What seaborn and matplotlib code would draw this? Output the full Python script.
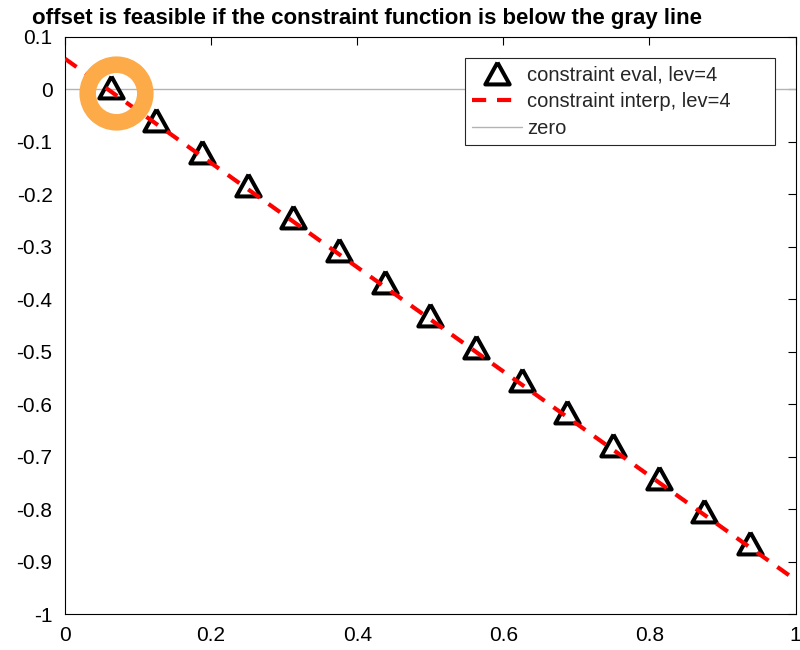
import matplotlib
matplotlib.use("Agg")
import matplotlib.pyplot as plt
import seaborn as sns

# constraint evaluated on the level-4 grid nodes
eval_x = [0.0625, 0.125, 0.1875, 0.25, 0.3125, 0.375, 0.4375, 0.5,
          0.5625, 0.625, 0.6875, 0.75, 0.8125, 0.875, 0.9375]
eval_y = [0.005, -0.058, -0.119, -0.183, -0.243, -0.306, -0.367, -0.430,
          -0.492, -0.555, -0.616, -0.678, -0.740, -0.803, -0.864]

# interpolant of the constraint
interp_x = [0.0, 1.0]
interp_y = [0.058, -0.935]

# feasibility threshold
zero_x = [0.0, 1.0]
zero_y = [0.0, 0.0]

# chosen offset
offset_x = [0.070]
offset_y = [-0.007]

x_ticks = [0, 0.2, 0.4, 0.6, 0.8, 1]
x_tick_labels = ["0", "0.2", "0.4", "0.6", "0.8", "1"]
y_ticks = [0.1, 0, -0.1, -0.2, -0.3, -0.4, -0.5, -0.6, -0.7, -0.8, -0.9, -1]
y_tick_labels = ["0.1", "0", "-0.1", "-0.2", "-0.3", "-0.4", "-0.5",
                 "-0.6", "-0.7", "-0.8", "-0.9", "-1"]

title = "offset is feasible if the constraint function is below the gray line"

sns.set_theme(style="white")
plt.rcParams["font.family"] = ["Liberation Sans", "DejaVu Sans"]
plt.rcParams["axes.unicode_minus"] = False

fig = plt.figure(figsize=(8, 6.5), dpi=100)
ax = fig.add_axes([65 / 800, 36 / 650, 730.5 / 800, 577.3 / 650])

# open triangle, slightly wider than tall
tri = [(0, 0.9), (-1, -0.9), (1, -0.9), (0, 0.9)]

sns.lineplot(x=zero_x, y=zero_y, ax=ax, color="#b3b3b3", lw=1.0,
             label="zero", zorder=1)
sns.lineplot(x=eval_x, y=eval_y, ax=ax, linestyle="", marker=tri,
             markersize=17.5, markeredgecolor="black", markerfacecolor="none",
             markeredgewidth=2.9, color="black",
             label="constraint eval, lev=4", zorder=2)
sns.lineplot(x=interp_x, y=interp_y, ax=ax, color="red", lw=3.0,
             linestyle=(0, (3.4, 2.6)), dash_capstyle="butt",
             label="constraint interp, lev=4", zorder=3)
sns.lineplot(x=offset_x, y=offset_y, ax=ax, linestyle="", marker="o",
             markersize=41.5, markerfacecolor="none",
             markeredgecolor="#FDAA48", markeredgewidth=11.9,
             color="#FDAA48", zorder=5)

ax.set_xlim(0, 1)
ax.set_ylim(-1, 0.1)
ax.set_xticks(x_ticks)
ax.set_xticklabels(x_tick_labels)
ax.set_yticks(y_ticks)
ax.set_yticklabels(y_tick_labels)
ax.tick_params(direction="in", length=5.8, width=0.8, top=True, right=True,
               labelsize=15, colors="black")
ax.tick_params(axis="x", pad=8.5)
ax.tick_params(axis="y", pad=9)
for s in ax.spines.values():
    s.set_visible(True)
    s.set_color("black")
    s.set_linewidth(0.8)
ax.grid(False)

handles, labels = ax.get_legend_handles_labels()
order = ["constraint eval, lev=4", "constraint interp, lev=4", "zero"]
hmap = dict(zip(labels, handles))
leg = ax.legend([hmap[k] for k in order], order,
                loc="upper left", mode="expand",
                bbox_to_anchor=(0.5476, 0.8176, 0.4244, 0.1455),
                borderaxespad=0, fontsize=14.5, handlelength=2.5,
                handletextpad=0.25, borderpad=0.35, labelspacing=0.4,
                numpoints=1, fancybox=False, framealpha=1,
                edgecolor="#262626")
leg.get_frame().set_linewidth(0.8)

fig.text(32 / 800, 1 - 24 / 650, title, fontsize=16, fontweight="bold",
         ha="left", va="baseline", color="black")

fig.savefig("out.png", dpi=100)
